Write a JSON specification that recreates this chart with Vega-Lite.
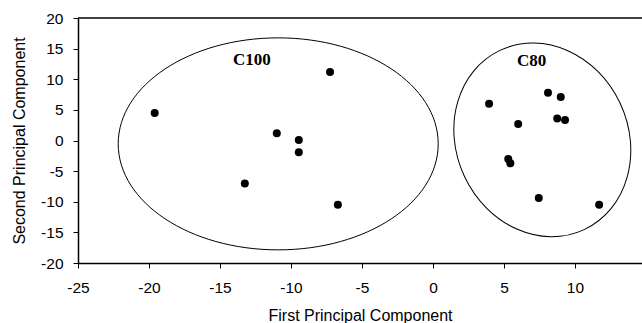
{
  "$schema": "https://vega.github.io/schema/vega-lite/v6.json",
  "autosize": {"type": "none"},
  "padding": {"left": 78, "top": 18, "right": 0, "bottom": 60},
  "width": 564,
  "height": 245,
  "background": "white",
  "config": {
    "view": {"stroke": null},
    "font": "Liberation Sans",
    "axis": {
      "grid": false,
      "domainColor": "black",
      "domainWidth": 1.5,
      "tickColor": "black",
      "tickSize": 5,
      "labelColor": "black",
      "labelFont": "Liberation Sans",
      "labelFontSize": 15.5,
      "labelExpr": "'' + datum.value",
      "titleFont": "Liberation Sans",
      "titleFontSize": 16,
      "titleFontWeight": "normal",
      "titleColor": "black"
    }
  },
  "datasets": {
    "scores": [
      {"pc1": -19.6, "pc2": 4.5, "group": "C100"},
      {"pc1": -7.25, "pc2": 11.2, "group": "C100"},
      {"pc1": -11.0, "pc2": 1.2, "group": "C100"},
      {"pc1": -9.45, "pc2": 0.1, "group": "C100"},
      {"pc1": -9.45, "pc2": -1.9, "group": "C100"},
      {"pc1": -13.25, "pc2": -7.0, "group": "C100"},
      {"pc1": -6.7, "pc2": -10.5, "group": "C100"},
      {"pc1": 3.95, "pc2": 6.0, "group": "C80"},
      {"pc1": 8.1, "pc2": 7.8, "group": "C80"},
      {"pc1": 9.0, "pc2": 7.1, "group": "C80"},
      {"pc1": 6.0, "pc2": 2.7, "group": "C80"},
      {"pc1": 8.75, "pc2": 3.6, "group": "C80"},
      {"pc1": 9.3, "pc2": 3.35, "group": "C80"},
      {"pc1": 5.3, "pc2": -3.0, "group": "C80"},
      {"pc1": 5.45, "pc2": -3.7, "group": "C80"},
      {"pc1": 7.45, "pc2": -9.4, "group": "C80"},
      {"pc1": 11.7, "pc2": -10.5, "group": "C80"}
    ],
    "labels": [
      {"pc1": -12.75, "pc2": 13.1, "group": "C100"},
      {"pc1": 6.95, "pc2": 12.9, "group": "C80"}
    ],
    "clusters": [
      {"pc1": -10.9, "pc2": -0.55, "group": "C100"},
      {"pc1": 7.7, "pc2": 0.1, "group": "C80"}
    ],
    "frame": [
      {"pc1": -25, "pc1_end": 14.72, "pc2": 20}
    ]
  },
  "encoding": {
    "x": {
      "field": "pc1", "type": "quantitative",
      "scale": {"domain": [-25, 14.72], "nice": false, "zero": false},
      "axis": {"title": "First Principal Component", "values": [-25, -20, -15, -10, -5, 0, 5, 10, 15], "labelOverlap": false, "labelPadding": 12, "titlePadding": 12, "labelFlush": false}
    },
    "y": {
      "field": "pc2", "type": "quantitative",
      "scale": {"domain": [-20, 20], "nice": false, "zero": false},
      "axis": {"title": "Second Principal Component", "values": [-20, -15, -10, -5, 0, 5, 10, 15, 20], "labelOverlap": false, "labelPadding": 10, "titlePadding": 13, "labelFlush": false}
    }
  },
  "layer": [
    {
      "data": {"name": "scores"},
      "mark": {"type": "point", "shape": "circle", "filled": true, "color": "black", "opacity": 1, "size": 64}
    },
    {
      "data": {"name": "clusters"},
      "transform": [{"filter": "datum.group === 'C100'"}],
      "mark": {"type": "point", "shape": "M-1,0A1,0.6625,0,1,0,1,0A1,0.6625,0,1,0,-1,0Z", "filled": false, "stroke": "black", "strokeWidth": 1, "opacity": 1, "size": 102400, "clip": false}
    },
    {
      "data": {"name": "clusters"},
      "transform": [{"filter": "datum.group === 'C80'"}],
      "mark": {"type": "point", "shape": "M-0.8687,0A0.8687,1,0,1,0,0.8687,0A0.8687,1,0,1,0,-0.8687,0Z", "filled": false, "stroke": "black", "strokeWidth": 1, "opacity": 1, "size": 39204, "angle": -25, "clip": false}
    },
    {
      "data": {"name": "labels"},
      "mark": {"type": "text", "font": "Liberation Serif", "fontWeight": "bold", "fontSize": 17, "color": "black", "align": "center", "baseline": "middle"},
      "encoding": {
        "text": {"field": "group"}
      }
    },
    {
      "data": {"name": "frame"},
      "mark": {"type": "rule", "color": "black", "strokeWidth": 1.5},
      "encoding": {
        "x2": {"field": "pc1_end"}
      }
    }
  ]
}
